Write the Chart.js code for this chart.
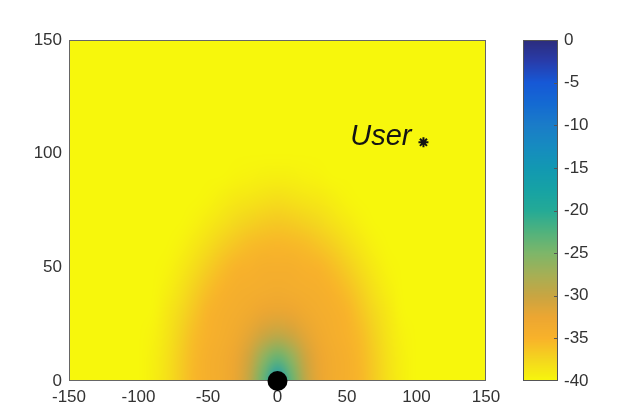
<!DOCTYPE html>
<html>
<head>
<meta charset="utf-8">
<script src="https://cdn.jsdelivr.net/npm/chart.js@4.4.1/dist/chart.umd.min.js"></script>
<style>
  body { margin: 0; background: #ffffff; }
  canvas { display: block; }
</style>
</head>
<body>
<canvas id="myChart" width="617" height="417"></canvas>
<script>
// grid nodes of the field (metres) and the value at each node (dB), row 0 = y 0
var xNodes = [-150, -140, -130, -120, -110, -100, -90, -80, -70, -60, -50, -40, -30, -20, -10, 0,
  10, 20, 30, 40, 50, 60, 70, 80, 90, 100, 110, 120, 130, 140, 150];
var yNodes = [0, 10, 20, 30, 40, 50, 60, 70, 80, 90, 100, 110, 120, 130, 140, 150];
var field = [
  [-40, -40, -40, -40, -40, -40, -39.4, -38.3, -36.8, -35.3, -34.3, -33.7, -32.3, -29.3, -23.5, -14, -23.5, -29.3, -32.3, -33.7, -34.3, -35.3, -36.8, -38.3, -39.4, -40, -40, -40, -40, -40, -40],
  [-40, -40, -40, -40, -40, -40, -39.5, -38.4, -36.9, -35.4, -34.4, -33.8, -32.6, -30.3, -26, -23.5, -26, -30.3, -32.6, -33.8, -34.4, -35.4, -36.9, -38.4, -39.5, -40, -40, -40, -40, -40, -40],
  [-40, -40, -40, -40, -40, -40, -39.6, -38.6, -37.2, -35.7, -34.7, -34.1, -33.3, -31.9, -30.3, -29.3, -30.3, -31.9, -33.3, -34.1, -34.7, -35.7, -37.2, -38.6, -39.6, -40, -40, -40, -40, -40, -40],
  [-40, -40, -40, -40, -40, -40, -39.9, -38.9, -37.7, -36.3, -35.1, -34.3, -33.9, -33.3, -32.6, -32.3, -32.6, -33.3, -33.9, -34.3, -35.1, -36.3, -37.7, -38.9, -39.9, -40, -40, -40, -40, -40, -40],
  [-40, -40, -40, -40, -40, -40, -40, -39.4, -38.4, -37.1, -35.8, -35, -34.3, -34.1, -33.9, -33.7, -33.9, -34.1, -34.3, -35, -35.8, -37.1, -38.4, -39.4, -40, -40, -40, -40, -40, -40, -40],
  [-40, -40, -40, -40, -40, -40, -40, -39.8, -39, -38, -36.9, -35.8, -35.1, -34.7, -34.4, -34.3, -34.4, -34.7, -35.1, -35.8, -36.9, -38, -39, -39.8, -40, -40, -40, -40, -40, -40, -40],
  [-40, -40, -40, -40, -40, -40, -40, -40, -39.6, -38.9, -38, -37.1, -36.3, -35.7, -35.4, -35.3, -35.4, -35.7, -36.3, -37.1, -38, -38.9, -39.6, -40, -40, -40, -40, -40, -40, -40, -40],
  [-40, -40, -40, -40, -40, -40, -40, -40, -40, -39.6, -39, -38.4, -37.7, -37.2, -36.8, -36.6, -36.8, -37.2, -37.7, -38.4, -39, -39.6, -40, -40, -40, -40, -40, -40, -40, -40, -40],
  [-40, -40, -40, -40, -40, -40, -40, -40, -40, -40, -39.8, -39.3, -38.9, -38.6, -38.3, -38.1, -38.3, -38.6, -38.9, -39.3, -39.8, -40, -40, -40, -40, -40, -40, -40, -40, -40, -40],
  [-40, -40, -40, -40, -40, -40, -40, -40, -40, -40, -40, -40, -39.8, -39.6, -39.5, -39.4, -39.5, -39.6, -39.8, -40, -40, -40, -40, -40, -40, -40, -40, -40, -40, -40, -40],
  [-40, -40, -40, -40, -40, -40, -40, -40, -40, -40, -40, -40, -40, -40, -40, -40, -40, -40, -40, -40, -40, -40, -40, -40, -40, -40, -40, -40, -40, -40, -40],
  [-40, -40, -40, -40, -40, -40, -40, -40, -40, -40, -40, -40, -40, -40, -40, -40, -40, -40, -40, -40, -40, -40, -40, -40, -40, -40, -40, -40, -40, -40, -40],
  [-40, -40, -40, -40, -40, -40, -40, -40, -40, -40, -40, -40, -40, -40, -40, -40, -40, -40, -40, -40, -40, -40, -40, -40, -40, -40, -40, -40, -40, -40, -40],
  [-40, -40, -40, -40, -40, -40, -40, -40, -40, -40, -40, -40, -40, -40, -40, -40, -40, -40, -40, -40, -40, -40, -40, -40, -40, -40, -40, -40, -40, -40, -40],
  [-40, -40, -40, -40, -40, -40, -40, -40, -40, -40, -40, -40, -40, -40, -40, -40, -40, -40, -40, -40, -40, -40, -40, -40, -40, -40, -40, -40, -40, -40, -40],
  [-40, -40, -40, -40, -40, -40, -40, -40, -40, -40, -40, -40, -40, -40, -40, -40, -40, -40, -40, -40, -40, -40, -40, -40, -40, -40, -40, -40, -40, -40, -40]
];

var sourcePoint = [{ x: 0, y: 0 }];
var userPoint = [{ x: 105, y: 105 }];
var userLabel = "User";

var xTicks = [-150, -100, -50, 0, 50, 100, 150];
var yTicks = [0, 50, 100, 150];
var cbTicks = [0, -5, -10, -15, -20, -25, -30, -35, -40];

// colour map (value -> rgb)
var cmap = [
  [0, [44, 44, 124]],
  [-2.5, [40, 60, 170]],
  [-5, [22, 88, 214]],
  [-7.5, [20, 106, 210]],
  [-10, [26, 124, 200]],
  [-12.5, [22, 139, 192]],
  [-15, [18, 152, 178]],
  [-17.5, [22, 162, 165]],
  [-20, [36, 170, 150]],
  [-22.5, [80, 178, 125]],
  [-25, [125, 182, 105]],
  [-27.5, [165, 175, 85]],
  [-30, [200, 165, 66]],
  [-32.5, [236, 166, 50]],
  [-35, [248, 178, 42]],
  [-37.5, [244, 214, 30]],
  [-40, [247, 247, 12]]
];

function colorFor(v) {
  if (v >= cmap[0][0]) return cmap[0][1];
  for (var i = 1; i < cmap.length; i++) {
    if (v >= cmap[i][0]) {
      var a = cmap[i - 1], b = cmap[i];
      var t = (a[0] - v) / (a[0] - b[0]);
      return [0, 1, 2].map(function (k) { return Math.round(a[1][k] + (b[1][k] - a[1][k]) * t); });
    }
  }
  return cmap[cmap.length - 1][1];
}

function rgb(c) {
  return "rgb(" + c[0] + "," + c[1] + "," + c[2] + ")";
}

const fontFamily = "'Liberation Sans', Arial, Helvetica, sans-serif";

const heatmap = {
  id: "heatmap",
  beforeDatasetsDraw(chart) {
    const ctx = chart.ctx;
    const area = chart.chartArea;
    const xs = chart.scales.x, ys = chart.scales.y;
    const cols = xNodes.length, rows = yNodes.length;
    const off = document.createElement("canvas");
    off.width = cols;
    off.height = rows;
    const octx = off.getContext("2d");
    const img = octx.createImageData(cols, rows);
    for (let j = 0; j < rows; j++) {
      for (let i = 0; i < cols; i++) {
        const c = colorFor(field[j][i]);
        const k = ((rows - 1 - j) * cols + i) * 4;
        img.data[k] = c[0];
        img.data[k + 1] = c[1];
        img.data[k + 2] = c[2];
        img.data[k + 3] = 255;
      }
    }
    octx.putImageData(img, 0, 0);
    const hx = (xNodes[1] - xNodes[0]) / 2, hy = (yNodes[1] - yNodes[0]) / 2;
    const left = xs.getPixelForValue(xNodes[0] - hx);
    const right = xs.getPixelForValue(xNodes[cols - 1] + hx);
    const top = ys.getPixelForValue(yNodes[rows - 1] + hy);
    const bottom = ys.getPixelForValue(yNodes[0] - hy);
    ctx.save();
    ctx.beginPath();
    ctx.rect(area.left, area.top, area.right - area.left, area.bottom - area.top);
    ctx.clip();
    ctx.imageSmoothingEnabled = true;
    ctx.imageSmoothingQuality = "high";
    ctx.drawImage(off, left, top, right - left, bottom - top);
    ctx.restore();
    // axes box
    ctx.save();
    ctx.strokeStyle = "#666666";
    ctx.lineWidth = 1;
    ctx.strokeRect(Math.round(area.left) + 0.5, Math.round(area.top) + 0.5,
      Math.round(area.right - area.left) - 1, Math.round(area.bottom - area.top) - 1);
    ctx.restore();
  },
  afterDraw(chart) {
    const ctx = chart.ctx;
    const area = chart.chartArea;
    // user label next to its marker
    const ux = chart.scales.x.getPixelForValue(userPoint[0].x);
    const uy = chart.scales.y.getPixelForValue(userPoint[0].y);
    ctx.save();
    ctx.font = "italic 29px " + fontFamily;
    ctx.fillStyle = "#141414";
    ctx.textAlign = "right";
    ctx.textBaseline = "alphabetic";
    ctx.fillText(userLabel, ux - 12, uy + 3);
    ctx.restore();

    // colour bar on its own hidden scale
    const cb = chart.scales.cb;
    const top = cb.getPixelForValue(0);
    const bottom = cb.getPixelForValue(-40);
    const left = area.right + 37, w = 34;
    ctx.save();
    for (let py = Math.floor(top); py < Math.ceil(bottom); py++) {
      ctx.fillStyle = rgb(colorFor(cb.getValueForPixel(py + 0.5)));
      ctx.fillRect(left, py, w, 1);
    }
    ctx.strokeStyle = "#555555";
    ctx.lineWidth = 1;
    ctx.strokeRect(left + 0.5, Math.round(top) + 0.5, w, Math.round(bottom - top) - 1);
    ctx.font = "17px " + fontFamily;
    ctx.fillStyle = "#333333";
    ctx.textAlign = "left";
    ctx.textBaseline = "middle";
    cbTicks.forEach(function (v) {
      const py = cb.getPixelForValue(v);
      if (v !== 0 && v !== -40) {
        ctx.beginPath();
        ctx.moveTo(left + w, Math.round(py) + 0.5);
        ctx.lineTo(left + w - 3, Math.round(py) + 0.5);
        ctx.stroke();
      }
      ctx.fillText(String(v), left + w + 7, py);
    });
    ctx.restore();
  }
};

new Chart("myChart", {
  type: "scatter",
  data: {
    datasets: [{
      data: sourcePoint,
      pointRadius: 10,
      pointBackgroundColor: "#000000",
      pointBorderWidth: 0,
      clip: false
    }, {
      data: userPoint,
      pointStyle: "star",
      pointRadius: 5,
      pointBorderColor: "#141414",
      pointBorderWidth: 2,
      clip: false
    }]
  },
  options: {
    responsive: false,
    animation: false,
    events: [],
    layout: { padding: { top: 40, right: 131, bottom: 0, left: 0 } },
    plugins: { legend: { display: false }, tooltip: { enabled: false } },
    scales: {
      x: {
        type: "linear", min: -150, max: 150,
        grid: { display: false, drawTicks: false },
        border: { display: false },
        afterBuildTicks: function (s) { s.ticks = xTicks.map(function (v) { return { value: v }; }); },
        afterFit: function (s) { s.height = 36; },
        ticks: { padding: 6, color: "#333333", font: { family: fontFamily, size: 17 }, maxRotation: 0, autoSkip: false }
      },
      y: {
        type: "linear", min: 0, max: 150,
        grid: { display: false, drawTicks: false },
        border: { display: false },
        afterBuildTicks: function (s) { s.ticks = yTicks.map(function (v) { return { value: v }; }); },
        afterFit: function (s) { s.width = 69; },
        ticks: { padding: 7, color: "#333333", font: { family: fontFamily, size: 17 }, autoSkip: false }
      },
      cb: {
        type: "linear", position: "right", display: false, min: -40, max: 0,
        afterBuildTicks: function (s) { s.ticks = cbTicks.map(function (v) { return { value: v }; }); }
      }
    }
  },
  plugins: [heatmap]
});
</script>
</body>
</html>
